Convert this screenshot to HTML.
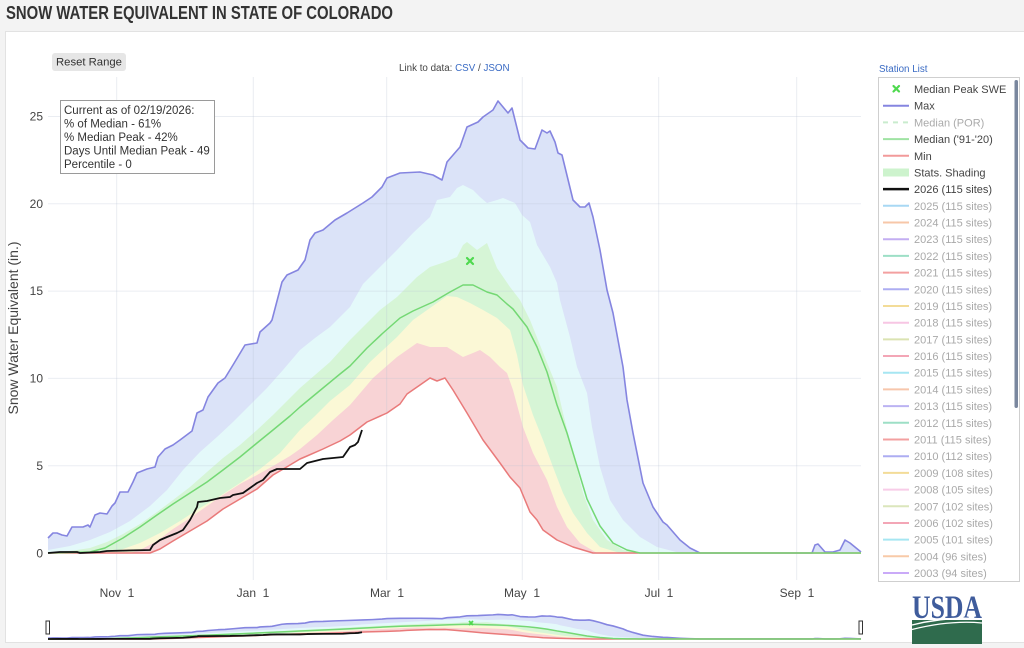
<!DOCTYPE html>
<html><head><meta charset="utf-8"><style>
html,body{margin:0;padding:0;background:#f3f3f3;}
svg{display:block;}
</style></head><body>
<svg width="1024" height="648" viewBox="0 0 1024 648" xmlns="http://www.w3.org/2000/svg" font-family="'Liberation Sans', Arial, sans-serif">
<defs>
<g id="bands">
<polygon fill="#dbe3f8" points="48,538 53,533 57,533 62,535 67,536 72,527 83,527 88,525 90,527 95,515 100,513 107,514 112,506 115,503 120,492 128,492 133,482 137,473 147,469 155,467 158,457 165,449 173,445 180,440 192,431 197,413 203,410 208,397 218,383 225,378 233,365 245,345 257,343 260,332 270,323 272,320 282,282 287,275 298,270 305,260 310,240 315,233 323,230 335,220 347,213 363,203 372,197 382,187 387,178 400,173 420,172 433,175 442,180 447,162 460,147 467,127 478,122 483,117 493,110 498,101 503,107 508,113 512,108 520,140 528,148 535,149 542,130 547,133 550,131 555,142 558,153 562,155 573,200 580,207 585,207 589,203 593,217 600,250 607,290 613,313 623,367 627,400 633,433 643,483 653,507 663,522 667,525 680,540 690,548 700,553 812,553 815,545 818,544 825,552 833,552 840,550 845,540 850,543 861,552 861,553 48,553"/>
<polygon fill="#e4f9fa" points="48,550 70,546 90,540 110,532 130,521 150,506 167,490 183,470 200,452 217,437 233,422 250,405 267,388 283,370 300,350 315,338 330,327 350,307 363,284 380,267 397,250 413,233 430,217 437,200 450,197 457,188 463,185 473,190 480,197 487,203 497,200 503,198 515,203 522,215 530,222 537,245 550,267 557,283 560,300 570,337 577,367 587,393 592,427 600,467 610,500 623,520 640,537 657,547 680,553 861,553 48,553"/>
<polygon fill="#d6f5d6" points="48,553 70,551 90,548 107,542 123,534 140,524 157,512 173,500 190,487 207,472 223,458 240,445 257,430 273,415 290,398 300,388 315,375 330,362 350,340 363,327 380,310 397,297 417,277 430,267 445,262 457,257 463,245 467,242 477,250 487,243 497,268 510,287 520,300 530,320 540,345 550,370 557,387 563,413 573,453 583,493 593,520 607,540 623,550 640,553 861,553 48,553"/>
<polygon fill="#fbf8d6" points="48,553 105,553 120,550 140,543 160,533 180,521 200,508 220,496 240,483 260,469 280,453 300,430 315,416 330,401 350,385 370,362 397,337 413,320 430,308 447,296 457,297 470,303 483,310 497,318 510,330 517,355 523,385 533,415 543,440 553,467 563,493 573,513 587,533 600,547 620,553 861,553 48,553"/>
<polygon fill="#f8d3d5" points="48,553 130,553 140,550 157,541 173,529 190,518 207,506 223,495 240,484 257,475 273,466 290,456 300,449 317,435 333,420 350,405 373,378 397,357 417,343 430,347 447,347 463,357 473,353 480,350 490,357 500,367 507,373 513,390 523,427 533,453 547,480 557,507 567,527 580,543 597,553 861,553 48,553"/>
<polygon fill="#ffffff" points="48,553 150,553 160,549 173,541 190,531 207,521 223,509 240,499 257,489 273,475 285,468 300,459 307,456 323,449 340,441 350,435 367,422 387,413 400,404 407,394 420,385 430,378 437,381 445,378 453,390 467,413 483,440 500,463 510,477 520,488 530,512 537,520 543,530 557,540 573,547 593,553 861,553 48,553"/>
</g>
<g id="lines" fill="none" stroke-linejoin="round">
<polyline vector-effect="non-scaling-stroke" stroke="#8585e0" stroke-width="1.6" points="48,538 53,533 57,533 62,535 67,536 72,527 83,527 88,525 90,527 95,515 100,513 107,514 112,506 115,503 120,492 128,492 133,482 137,473 147,469 155,467 158,457 165,449 173,445 180,440 192,431 197,413 203,410 208,397 218,383 225,378 233,365 245,345 257,343 260,332 270,323 272,320 282,282 287,275 298,270 305,260 310,240 315,233 323,230 335,220 347,213 363,203 372,197 382,187 387,178 400,173 420,172 433,175 442,180 447,162 460,147 467,127 478,122 483,117 493,110 498,101 503,107 508,113 512,108 520,140 528,148 535,149 542,130 547,133 550,131 555,142 558,153 562,155 573,200 580,207 585,207 589,203 593,217 600,250 607,290 613,313 623,367 627,400 633,433 643,483 653,507 663,522 667,525 680,540 690,548 700,553 812,553 815,545 818,544 825,552 833,552 840,550 845,540 850,543 861,552"/>
<polyline vector-effect="non-scaling-stroke" stroke="#e97a7a" stroke-width="1.5" points="48,553 150,553 160,549 173,541 190,531 207,521 223,509 240,499 257,489 273,475 285,468 300,459 307,456 323,449 340,441 350,435 367,422 387,413 400,404 407,394 420,385 430,378 437,381 445,378 453,390 467,413 483,440 500,463 510,477 520,488 530,512 537,520 543,530 557,540 573,547 593,553 861,553"/>
<polyline vector-effect="non-scaling-stroke" stroke="#74d874" stroke-width="1.5" points="48,553 90,552 105,548 123,538 140,527 157,515 173,504 190,493 207,482 223,470 240,457 257,443 273,430 290,416 300,407 323,388 340,374 350,366 367,348 383,333 400,318 413,311 433,302 450,292 463,285 473,285 487,292 497,295 507,304 513,309 527,327 537,347 547,372 557,405 567,433 577,466 587,499 600,526 613,543 627,550 640,553 861,553"/>
<polyline vector-effect="non-scaling-stroke" stroke="#111111" stroke-width="1.8" points="48,553 60,552 77,552 80,553 100,552 107,551 150,550 153,545 160,540 167,537 177,533 183,530 190,520 197,507 198,502 207,501 220,498 230,497 233,495 243,493 250,488 257,483 263,480 270,472 277,469 300,469 307,463 323,459 343,457 350,447 355,445 358,442 362,430"/>
</g>
</defs>

<!-- page -->
<rect x="0" y="0" width="1024" height="648" fill="#f3f3f3"/>
<text x="6" y="19" font-size="18" font-weight="bold" fill="#333" textLength="387" lengthAdjust="spacingAndGlyphs">SNOW WATER EQUIVALENT IN STATE OF COLORADO</text>
<rect x="5.5" y="31.5" width="1030" height="611" fill="#ffffff" stroke="#e2e2e2"/>

<!-- reset range -->
<rect x="52" y="53" width="74" height="18" rx="3" fill="#e6e6e6"/>
<text x="56" y="65.5" font-size="11.3" fill="#333">Reset Range</text>
<text x="399" y="71" font-size="9.8" fill="#444">Link to data: <tspan fill="#3a6bc4">CSV</tspan> / <tspan fill="#3a6bc4">JSON</tspan></text>

<!-- main plot -->
<use href="#bands"/>
<g stroke="rgba(185,195,212,0.3)" stroke-width="1">
<line x1="48" x2="861" y1="116.5" y2="116.5"/>
<line x1="48" x2="861" y1="203.8" y2="203.8"/>
<line x1="48" x2="861" y1="291.1" y2="291.1"/>
<line x1="48" x2="861" y1="378.4" y2="378.4"/>
<line x1="48" x2="861" y1="465.7" y2="465.7"/>
<line x1="116.7" x2="116.7" y1="77" y2="580"/>
<line x1="253.3" x2="253.3" y1="77" y2="580"/>
<line x1="386.7" x2="386.7" y1="77" y2="580"/>
<line x1="522.3" x2="522.3" y1="77" y2="580"/>
<line x1="658.7" x2="658.7" y1="77" y2="580"/>
<line x1="796.7" x2="796.7" y1="77" y2="580"/>
</g>
<line x1="48" x2="861" y1="553.5" y2="553.5" stroke="#e8ebf0" stroke-width="1"/>
<use href="#lines"/>
<g stroke="#4fd94f" stroke-width="2.2" stroke-linecap="round">
<line x1="467" y1="258" x2="473" y2="264"/><line x1="473" y1="258" x2="467" y2="264"/>
</g>

<!-- y axis -->
<g font-size="12" fill="#444" text-anchor="end">
<text x="43" y="120.5">25</text>
<text x="43" y="208">20</text>
<text x="43" y="295">15</text>
<text x="43" y="382.5">10</text>
<text x="43" y="470">5</text>
<text x="43" y="557.5">0</text>
</g>
<text transform="translate(18,328) rotate(-90)" font-size="14" fill="#444" text-anchor="middle">Snow Water Equivalent (in.)</text>

<!-- x axis -->
<g font-size="12" fill="#444" text-anchor="middle">
<text x="117" y="597">Nov&#160;&#160;1</text>
<text x="253" y="597">Jan&#160;&#160;1</text>
<text x="387" y="597">Mar&#160;&#160;1</text>
<text x="522" y="597">May&#160;&#160;1</text>
<text x="659" y="597">Jul&#160;&#160;1</text>
<text x="797" y="597">Sep&#160;&#160;1</text>
</g>

<!-- info box -->
<rect x="60.5" y="100.5" width="154" height="73" fill="#ffffff" stroke="#9a9a9a"/>
<g font-size="11.5" fill="#333">
<text x="64" y="114">Current as of 02/19/2026:</text>
<text x="64" y="127.5">% of Median - 61%</text>
<text x="64" y="141">% Median Peak - 42%</text>
<text x="64" y="154.5">Days Until Median Peak - 49</text>
<text x="64" y="168">Percentile - 0</text>
</g>

<!-- range slider -->
<g transform="matrix(1,0,0,0.0544,0,608.9)">
<use href="#bands"/>
<use href="#lines"/>
</g>
<g stroke="#4fd94f" stroke-width="1.8">
<line x1="469" y1="621" x2="473" y2="625"/><line x1="473" y1="621" x2="469" y2="625"/>
</g>
<rect x="46" y="621" width="3.5" height="13" fill="#fff" stroke="#333" stroke-width="1"/>
<rect x="859" y="621" width="3.5" height="13" fill="#fff" stroke="#333" stroke-width="1"/>

<!-- legend -->
<text x="879" y="72" font-size="9.8" fill="#3a6bc4">Station List</text>
<rect x="878.5" y="77.5" width="141" height="504" fill="#ffffff" stroke="#cfcfcf"/>
<rect x="1014.5" y="80" width="3.5" height="328" rx="1.7" fill="#7a879e"/>
<g stroke-width="2" fill="none">
<line x1="883" x2="909" y1="105.7" y2="105.7" stroke="#8585e0"/>
<line x1="883" x2="909" y1="122.4" y2="122.4" stroke="#c9ecce" stroke-dasharray="5,5"/>
<line x1="883" x2="909" y1="139.1" y2="139.1" stroke="#9fe3a3"/>
<line x1="883" x2="909" y1="155.8" y2="155.8" stroke="#f29a9a"/>
<line x1="883" x2="909" y1="172.5" y2="172.5" stroke="#cdf3cd" stroke-width="8"/>
<line x1="883" x2="909" y1="189.1" y2="189.1" stroke="#111" stroke-width="2.5"/>
<line x1="883" x2="909" y1="205.8" y2="205.8" stroke="#a8d8f4"/>
<line x1="883" x2="909" y1="222.5" y2="222.5" stroke="#f7c7a8"/>
<line x1="883" x2="909" y1="239.2" y2="239.2" stroke="#c3aef2"/>
<line x1="883" x2="909" y1="255.9" y2="255.9" stroke="#9ddfc6"/>
<line x1="883" x2="909" y1="272.6" y2="272.6" stroke="#f3a0a0"/>
<line x1="883" x2="909" y1="289.3" y2="289.3" stroke="#adadf2"/>
<line x1="883" x2="909" y1="306.0" y2="306.0" stroke="#f3dc98"/>
<line x1="883" x2="909" y1="322.7" y2="322.7" stroke="#f7c6e4"/>
<line x1="883" x2="909" y1="339.4" y2="339.4" stroke="#dbe3b2"/>
<line x1="883" x2="909" y1="356.0" y2="356.0" stroke="#f3a6b6"/>
<line x1="883" x2="909" y1="372.7" y2="372.7" stroke="#a6e6f2"/>
<line x1="883" x2="909" y1="389.4" y2="389.4" stroke="#f7c6ac"/>
<line x1="883" x2="909" y1="406.1" y2="406.1" stroke="#bbb3f2"/>
<line x1="883" x2="909" y1="422.8" y2="422.8" stroke="#9ddfc6"/>
<line x1="883" x2="909" y1="439.5" y2="439.5" stroke="#f3a0a0"/>
<line x1="883" x2="909" y1="456.2" y2="456.2" stroke="#adadf2"/>
<line x1="883" x2="909" y1="472.9" y2="472.9" stroke="#f3dc98"/>
<line x1="883" x2="909" y1="489.6" y2="489.6" stroke="#f8cce8"/>
<line x1="883" x2="909" y1="506.3" y2="506.3" stroke="#dbe6bc"/>
<line x1="883" x2="909" y1="523.0" y2="523.0" stroke="#f3a6b6"/>
<line x1="883" x2="909" y1="539.6" y2="539.6" stroke="#a6e6f2"/>
<line x1="883" x2="909" y1="556.3" y2="556.3" stroke="#f8caa8"/>
<line x1="883" x2="909" y1="573.0" y2="573.0" stroke="#caaaf8"/>
</g>
<g stroke="#4fd94f" stroke-width="2.2" stroke-linecap="round">
<line x1="893.5" y1="86" x2="899" y2="91.5"/><line x1="899" y1="86" x2="893.5" y2="91.5"/>
</g>
<g font-size="11" fill="#444">
<text x="914" y="93">Median Peak SWE</text>
<text x="914" y="109.7">Max</text>
<text x="914" y="126.4" fill="#aaa">Median (POR)</text>
<text x="914" y="143.1">Median ('91-'20)</text>
<text x="914" y="159.8">Min</text>
<text x="914" y="176.5">Stats. Shading</text>
<text x="914" y="193.1">2026 (115 sites)</text>
</g>
<g font-size="11" fill="#a9a9a9">
<text x="914" y="209.8">2025 (115 sites)</text>
<text x="914" y="226.5">2024 (115 sites)</text>
<text x="914" y="243.2">2023 (115 sites)</text>
<text x="914" y="259.9">2022 (115 sites)</text>
<text x="914" y="276.6">2021 (115 sites)</text>
<text x="914" y="293.3">2020 (115 sites)</text>
<text x="914" y="310.0">2019 (115 sites)</text>
<text x="914" y="326.7">2018 (115 sites)</text>
<text x="914" y="343.4">2017 (115 sites)</text>
<text x="914" y="360.0">2016 (115 sites)</text>
<text x="914" y="376.7">2015 (115 sites)</text>
<text x="914" y="393.4">2014 (115 sites)</text>
<text x="914" y="410.1">2013 (115 sites)</text>
<text x="914" y="426.8">2012 (115 sites)</text>
<text x="914" y="443.5">2011 (115 sites)</text>
<text x="914" y="460.2">2010 (112 sites)</text>
<text x="914" y="476.9">2009 (108 sites)</text>
<text x="914" y="493.6">2008 (105 sites)</text>
<text x="914" y="510.3">2007 (102 sites)</text>
<text x="914" y="527.0">2006 (102 sites)</text>
<text x="914" y="543.6">2005 (101 sites)</text>
<text x="914" y="560.3">2004 (96 sites)</text>
<text x="914" y="577.0">2003 (94 sites)</text>
</g>

<!-- USDA logo -->
<text x="912" y="618" font-family="'Liberation Serif', serif" font-weight="bold" font-size="33" fill="#3f5c9c" textLength="70" lengthAdjust="spacingAndGlyphs">USDA</text>
<rect x="912" y="620" width="70" height="24" fill="#2f6b4d"/>
<path d="M912,625 Q948,616 982,619" stroke="#fff" stroke-width="1.4" fill="none"/>
<path d="M912,629.5 Q950,620 982,623" stroke="#fff" stroke-width="1.2" fill="none"/>
</svg>
</body></html>
